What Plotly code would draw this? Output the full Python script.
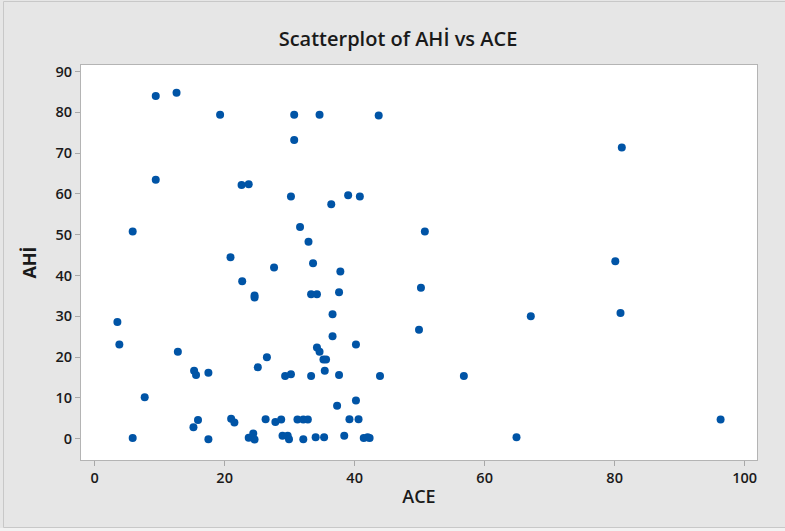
import plotly.graph_objects as go

ace = [3.5, 3.8, 5.85, 5.85, 7.7, 9.4, 9.4, 12.6, 12.8, 15.2, 15.3, 15.6, 15.9, 17.5, 17.5,
       19.3, 20.9, 21.0, 21.5, 22.6, 22.7, 23.7, 23.7, 24.4, 24.6, 24.6, 24.6, 25.1, 26.3, 26.5,
       27.6, 27.8, 28.7, 28.9, 29.3, 29.7, 29.9, 30.2, 30.2, 30.7, 30.7, 31.2, 31.6, 32.1, 32.1,
       32.8, 32.9, 33.3, 33.3, 33.6, 34.0, 34.2, 34.2, 34.6, 34.6, 35.2, 35.3, 35.4, 35.6, 36.4,
       36.6, 36.6, 37.3, 37.6, 37.6, 37.8, 38.4, 39.0, 39.2, 40.2, 40.2, 40.6, 40.8, 41.4, 42.0,
       42.3, 43.7, 43.9, 49.9, 50.2, 50.8, 56.8, 64.9, 67.1, 80.1, 80.9, 81.1, 96.3]
ahi = [28.6, 23.1, 50.8, 0.2, 10.2, 84.0, 63.5, 84.8, 21.3, 2.8, 16.7, 15.6, 4.6, 16.2, -0.1,
       79.4, 44.5, 4.9, 4.0, 62.2, 38.6, 62.4, 0.25, 1.3, 35.1, 34.6, -0.2, 17.5, 4.8, 20.0,
       42.0, 4.1, 4.7, 0.75, 15.4, 0.75, -0.1, 59.4, 15.8, 79.4, 73.2, 4.7, 51.9, -0.1, 4.7,
       4.7, 48.3, 35.4, 15.4, 43.0, 0.4, 35.4, 22.4, 79.4, 21.3, 19.4, 0.4, 16.7, 19.4, 57.5,
       30.5, 25.1, 8.1, 35.9, 15.6, 41.0, 0.75, 59.7, 4.8, 23.1, 9.4, 4.8, 59.4, 0.2, 0.4,
       0.2, 79.2, 15.4, 26.7, 37.0, 50.8, 15.4, 0.4, 30.0, 43.5, 30.8, 71.4, 4.7]

x_ticks = [0, 20, 40, 60, 80, 100]
y_ticks = [0, 10, 20, 30, 40, 50, 60, 70, 80, 90]

W, H = 785, 531
L, R, T, B = 81, 757, 65, 460

fig = go.Figure(go.Scatter(
    x=ace, y=ahi, mode="markers",
    marker=dict(color="#0054a6", size=8, line=dict(width=0)),
    showlegend=False,
))

font_family = "Open Sans, Noto Sans, DejaVu Sans, sans-serif"

axis_common = dict(
    showgrid=False, zeroline=False, automargin=False,
    showline=True, linecolor="#b4b4b4", linewidth=1, mirror=True,
    ticks="outside", ticklen=5, tickcolor="#a8a8a8", tickwidth=1,
    tickfont=dict(family=font_family, size=14.5, color="#1a1a1a", weight=600),
)

fig.update_layout(
    width=W, height=H,
    margin=dict(l=L, r=W - R, t=T, b=H - B),
    paper_bgcolor="#e6e6e6",
    plot_bgcolor="white",
    title=dict(text="Scatterplot of AHİ vs ACE", x=398 / W, xanchor="center",
               y=1 - 39 / H, yanchor="middle",
               font=dict(family=font_family, size=20, color="#1a1a1a", weight=600)),
    xaxis=dict(range=[-2.1, 101.9], tickvals=x_ticks,
               title=dict(text="ACE", standoff=3,
                          font=dict(family=font_family, size=18, color="#1a1a1a", weight=600)),
               **axis_common),
    yaxis=dict(range=[-5.2, 91.6], tickvals=y_ticks,
               title=dict(text="AHİ", standoff=14,
                          font=dict(family=font_family, size=18, color="#1a1a1a", weight=700)),
               **axis_common),
)

def px_x(p):
    return (p - L) / (R - L)

def px_y(p):
    return (B - p) / (B - T)

fig.add_shape(type="rect", xref="paper", yref="paper",
              x0=px_x(-2), x1=px_x(W + 2), y0=px_y(528), y1=px_y(H + 2),
              fillcolor="#f2f2f2", line=dict(width=0), layer="above")
fig.add_shape(type="rect", xref="paper", yref="paper",
              x0=px_x(3.5), x1=px_x(W + 5), y0=px_y(527.5), y1=px_y(1.5),
              fillcolor="rgba(0,0,0,0)", line=dict(color="#c8c8c8", width=1), layer="above")

fig.write_html("out.html", config={"displayModeBar": False},
               post_script="document.body.style.margin='0';document.body.style.overflow='hidden';")
